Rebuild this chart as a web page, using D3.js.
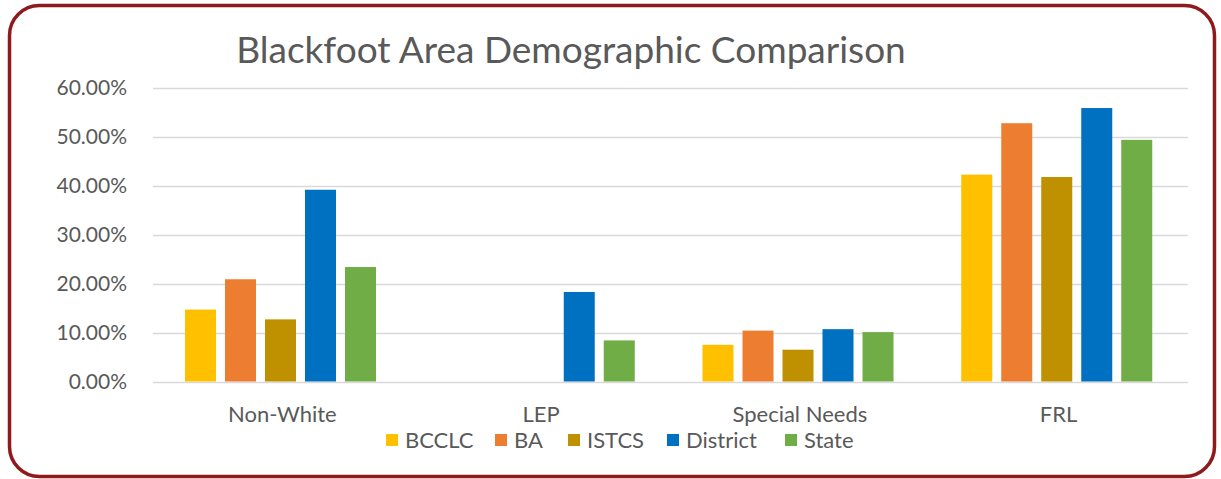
<!DOCTYPE html>
<html>
<head>
<meta charset="utf-8">
<script src="https://cdn.jsdelivr.net/npm/d3@7"></script>
<style>
  body { margin: 0; background: #fff; }
  svg text { font-family: Lato, "Open Sans", sans-serif; fill: #595959; }
</style>
</head>
<body>
<div id="area"></div>
<script>
// chart data
var categories = ["Non-White", "LEP", "Special Needs", "FRL"];
var seriesNames = ["BCCLC", "BA", "ISTCS", "District", "State"];
var BCCLC = [0.147, 0, 0.075, 0.423];
var BA = [0.209, 0, 0.104, 0.528];
var ISTCS = [0.127, 0, 0.065, 0.418];
var District = [0.392, 0.183, 0.107, 0.559];
var State = [0.234, 0.084, 0.101, 0.494];
var yTicks = [0, 0.1, 0.2, 0.3, 0.4, 0.5, 0.6];

var seriesValues = {BCCLC: BCCLC, BA: BA, ISTCS: ISTCS, District: District, State: State};
var colors = ["#FFC000", "#ED7D31", "#BF9000", "#0070C0", "#70AD47"];

var width = 1221, height = 479;

var svg = d3.select('#area').append('svg')
    .attr('width', width)
    .attr('height', height);

// rounded frame
svg.append('rect')
    .attr('x', 9.5).attr('y', 5.5)
    .attr('width', 1205).attr('height', 471)
    .attr('rx', 30).attr('ry', 30)
    .attr('fill', '#fff')
    .attr('stroke', '#8E1A1D')
    .attr('stroke-width', 3.5);

// title
svg.append('text')
    .attr('x', 571)
    .attr('y', 63)
    .attr('text-anchor', 'middle')
    .style('font-size', '37px')
    .text('Blackfoot Area Demographic Comparison');

var x0 = d3.scaleBand()
    .domain(categories)
    .range([153, 1188]);

var x1 = d3.scaleBand()
    .domain(seriesNames)
    .range([32, 223])
    .paddingInner(0.225);

var y = d3.scaleLinear()
    .domain([0, 0.6])
    .range([381.5, 88]);

var color = d3.scaleOrdinal().domain(seriesNames).range(colors);

// gridlines
svg.append('g').selectAll('line')
    .data(yTicks)
    .enter().append('line')
    .attr('x1', 153).attr('x2', 1188)
    .attr('y1', function(d) { return Math.round(y(d)) + 0.5; })
    .attr('y2', function(d) { return Math.round(y(d)) + 0.5; })
    .attr('stroke', '#D9D9D9')
    .attr('stroke-width', 1.5);

// y axis labels
var yAxis = d3.axisLeft(y)
    .tickValues(yTicks)
    .tickSize(0)
    .tickPadding(0)
    .tickFormat(d3.format('.2%'));

var yg = svg.append('g')
    .attr('transform', 'translate(127,0)')
    .call(yAxis);
yg.select('.domain').remove();
yg.selectAll('text')
    .style('font-size', '21px')
    .attr('font-family', null);

// bars
var group = svg.append('g').selectAll('.group')
    .data(categories)
    .enter().append('g')
    .attr('class', 'group')
    .attr('transform', function(d) { return 'translate(' + x0(d) + ',0)'; });

group.selectAll('rect')
    .data(function(d, i) {
      return seriesNames.map(function(key) { return {key: key, value: seriesValues[key][i]}; });
    })
    .enter().append('rect')
    .attr('x', function(d) { return x1(d.key); })
    .attr('y', function(d) { return y(d.value); })
    .attr('width', x1.bandwidth())
    .attr('height', function(d) { return y(0) - y(d.value); })
    .attr('fill', function(d) { return color(d.key); });

// x axis labels
var xAxis = d3.axisBottom(x0).tickSize(0).tickPadding(0);
var xg = svg.append('g')
    .attr('transform', 'translate(0,406)')
    .call(xAxis);
xg.select('.domain').remove();
xg.selectAll('text')
    .style('font-size', '22px')
    .attr('font-family', null);

// legend
var legendX = [386, 495, 568, 667, 785];
var legend = svg.append('g').selectAll('.legend')
    .data(seriesNames)
    .enter().append('g')
    .attr('class', 'legend')
    .attr('transform', function(d, i) { return 'translate(' + legendX[i] + ',440)'; });

legend.append('rect')
    .attr('x', 0).attr('y', -6)
    .attr('width', 12).attr('height', 12)
    .attr('fill', color);

legend.append('text')
    .attr('x', 19)
    .attr('y', 0)
    .attr('dy', '.35em')
    .style('font-size', '22px')
    .text(function(d) { return d; });
</script>
</body>
</html>
